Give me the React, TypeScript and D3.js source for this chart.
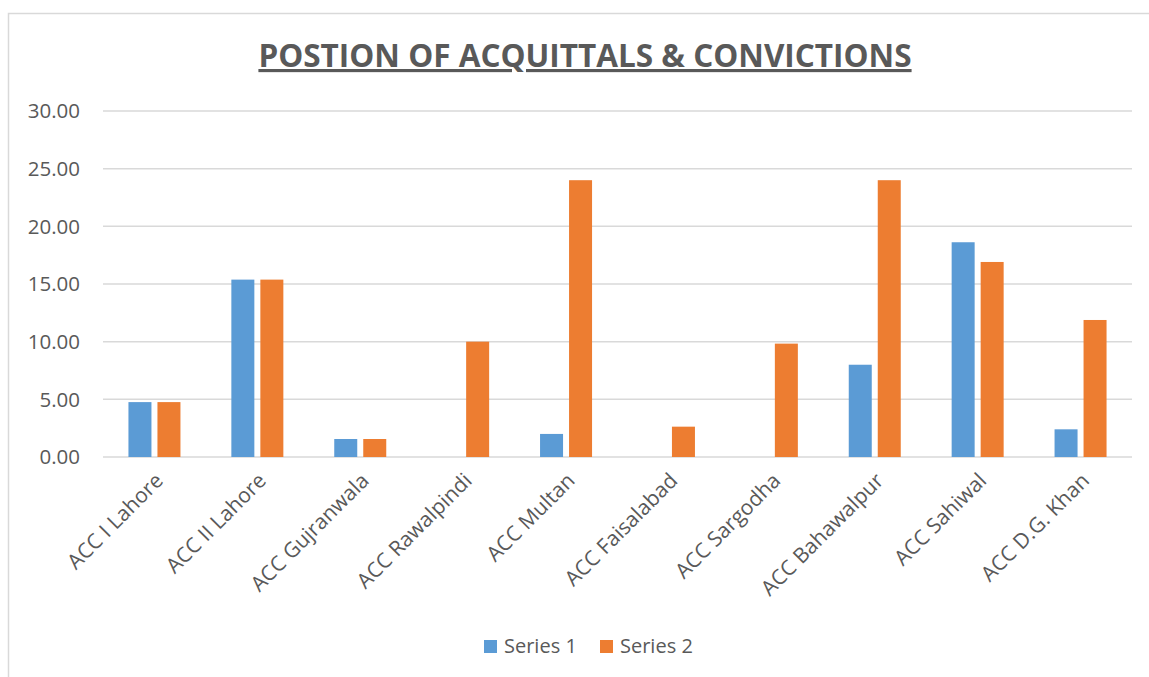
import React from "react";
import * as d3 from "d3";

const categories = [
  "ACC I Lahore",
  "ACC II Lahore",
  "ACC Gujranwala",
  "ACC Rawalpindi",
  "ACC Multan",
  "ACC Faisalabad",
  "ACC Sargodha",
  "ACC Bahawalpur",
  "ACC Sahiwal",
  "ACC D.G. Khan",
];
const series1 = [4.76, 15.38, 1.56, 0, 2.0, 0, 0, 8.0, 18.62, 2.4];
const series2 = [4.76, 15.38, 1.56, 10.0, 24.0, 2.63, 9.83, 24.0, 16.91, 11.88];
const seriesNames = ["Series 1", "Series 2"];
const yTicks = [0, 5, 10, 15, 20, 25, 30];
const title = "POSTION OF ACQUITTALS & CONVICTIONS";

const W = 1149;
const H = 677;
const plot = { left: 103, right: 1132, top: 111, bottom: 457 };
const colors = ["#5B9BD5", "#ED7D31"];
const textColor = "#595959";
const font = "'Open Sans', 'DejaVu Sans', sans-serif";

export default function App() {
  const x = d3
    .scaleBand<string>()
    .domain(categories)
    .range([plot.left, plot.right])
    .paddingInner(0)
    .paddingOuter(0);
  const y = d3.scaleLinear().domain([0, 30]).range([plot.bottom, plot.top]);
  const bw = x.bandwidth();
  const barW = 23;
  const gap = 6;
  const groupW = barW * 2 + gap;
  const series = [series1, series2];

  return (
    <svg
      width={W}
      height={H}
      style={{ position: "absolute", left: 0, top: 0, background: "#fff" }}
      fontFamily={font}
    >
      <rect x={0} y={0} width={W} height={H} fill="#fff" />
      {/* chart border */}
      <path d={`M8.5,${H} V13.5 H${W}`} fill="none" stroke="#d9d9d9" strokeWidth={1.5} />
      {/* title */}
      <text
        x={585}
        y={67}
        textAnchor="middle"
        fontSize={31.5}
        fontWeight="bold"
        fill={textColor}
        textDecoration="underline"
      >
        {title}
      </text>
      {/* gridlines */}
      {yTicks.map((t) => (
        <line
          key={t}
          x1={plot.left}
          x2={plot.right}
          y1={y(t)}
          y2={y(t)}
          stroke="#d9d9d9"
          strokeWidth={1.5}
        />
      ))}
      {/* y tick labels */}
      {yTicks.map((t) => (
        <text
          key={"l" + t}
          x={80}
          y={y(t)}
          dy="0.35em"
          textAnchor="end"
          fontSize={20.5}
          fill={textColor}
        >
          {t.toFixed(2)}
        </text>
      ))}
      {/* bars */}
      {categories.map((c, i) => {
        const x0 = (x(c) as number) + (bw - groupW) / 2;
        return series.map((s, j) =>
          s[i] > 0 ? (
            <rect
              key={c + j}
              x={x0 + j * (barW + gap)}
              y={y(s[i])}
              width={barW}
              height={y(0) - y(s[i])}
              fill={colors[j]}
            />
          ) : null
        );
      })}
      {/* x labels */}
      {categories.map((c) => {
        const cx = (x(c) as number) + bw / 2;
        return (
          <text
            key={"x" + c}
            transform={`translate(${cx + 10},${482}) rotate(-45)`}
            textAnchor="end"
            fontSize={21}
            fill={textColor}
          >
            {c}
          </text>
        );
      })}
      {/* legend */}
      {seriesNames.map((n, j) => (
        <g key={n} transform={`translate(${484 + j * 116},640)`}>
          <rect x={0} y={0} width={13} height={13} fill={colors[j]} />
          <text x={20} y={6} dy="0.35em" fontSize={20} fill={textColor}>
            {n}
          </text>
        </g>
      ))}
    </svg>
  );
}
